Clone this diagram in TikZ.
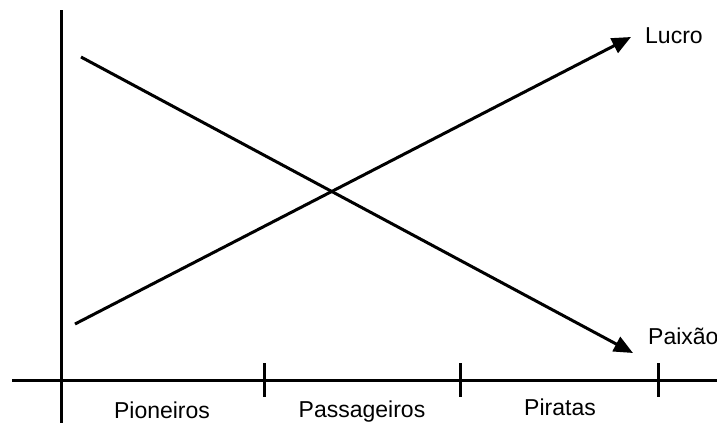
\documentclass[tikz,border=0pt]{standalone}
\usepackage{fontspec}
\setmainfont{Liberation Sans}
\usetikzlibrary{arrows.meta}
\begin{document}
\begin{tikzpicture}[x=1pt,y=-1pt,
  axis/.style={line width=3pt},
  curve/.style={line width=3pt,-{Triangle[length=19pt,width=16pt]}},
  tick/.style={line width=3pt},
  lbl/.style={font=\fontsize{23}{26}\selectfont,inner sep=0pt}]
\useasboundingbox (0,0) rectangle (717,423);
% axes
\coordinate (vtop) at (61,10);
\coordinate (vbot) at (61,423);
\coordinate (hl) at (12,380);
\coordinate (hr) at (717,380);
\draw[axis] (vtop) -- (vbot);
\draw[axis] (hl) -- (hr);
% ticks
\foreach \n/\x in {t1/264,t2/460,t3/658}{
  \coordinate (\n a) at (\x,363);
  \coordinate (\n b) at (\x,397);
  \draw[tick] (\n a) -- (\n b);
}
% lines
\coordinate (ps) at (81,57);
\coordinate (pe) at (633,353);
\coordinate (ls) at (75,324);
\coordinate (le) at (631,37);
\draw[curve] (ps) -- (pe);
\draw[curve] (ls) -- (le);
% labels
\node[lbl,anchor=west] (lucro) at (645,36) {Lucro};
\node[lbl,anchor=west] (paixao) at (648,336) {Paixão};
\node[lbl] (pion) at (162,410) {Pioneiros};
\node[lbl] (pass) at (362,412) {Passageiros};
\node[lbl] (pir) at (560,407) {Piratas};
\end{tikzpicture}
\end{document}
